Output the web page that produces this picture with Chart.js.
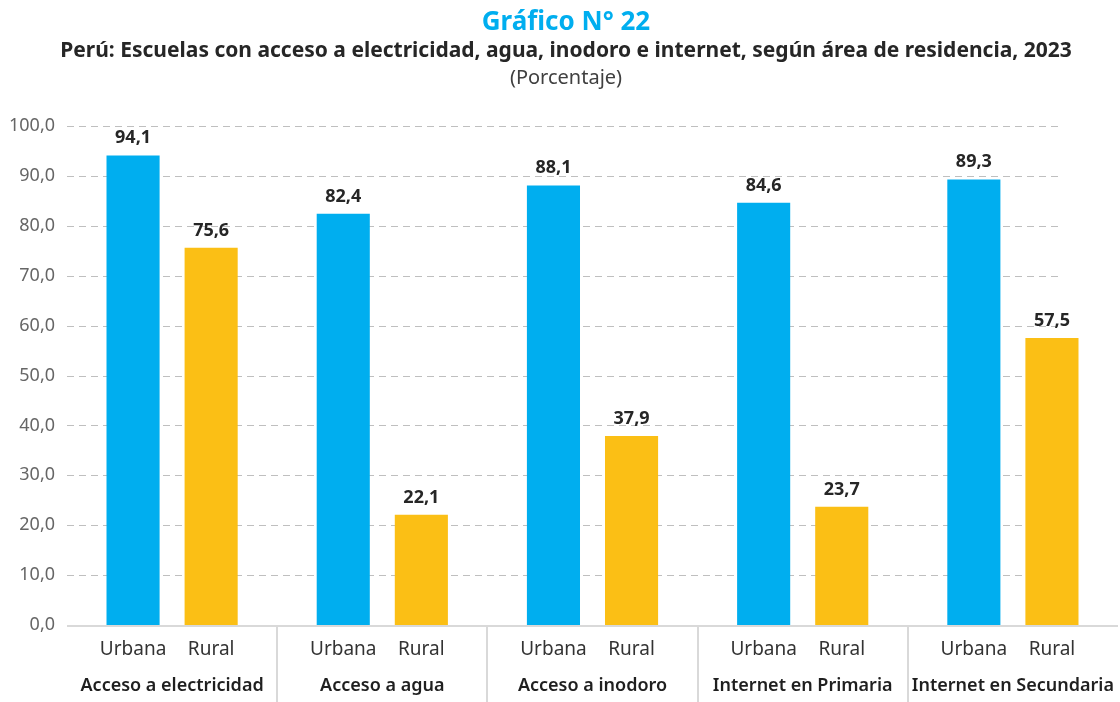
<!DOCTYPE html>
<html><head><meta charset="utf-8">
<script src="https://cdn.jsdelivr.net/npm/chart.js@4.4.1/dist/chart.umd.min.js"></script>
<style>html,body{margin:0;padding:0;background:#fff}#wrap{width:1120px;height:702px}</style>
</head><body><div id="wrap"><canvas id="c" width="1120" height="702"></canvas></div>
<script>
const groups = ['Acceso a electricidad', 'Acceso a agua', 'Acceso a inodoro', 'Internet en Primaria', 'Internet en Secundaria'];
const seriesNames = ['Urbana', 'Rural'];
const urbana = [94.1, 82.4, 88.1, 84.6, 89.3];
const rural = [75.6, 22.1, 37.9, 23.7, 57.5];
const yMin = 0, yMax = 100, yStep = 10;
const titleText = 'Gráfico N° 22';
const subtitleText = 'Perú: Escuelas con acceso a electricidad, agua, inodoro e internet, según área de residencia, 2023';
const unitText = '(Porcentaje)';

const FONT = "'Noto Sans', 'Open Sans', sans-serif";
const fmt = v => v.toFixed(1).replace('.', ',');

const decor = {
  id: 'decor',
  beforeDatasetsDraw(chart) {
    const ctx = chart.ctx, ca = chart.chartArea, y = chart.scales.y;
    ctx.save();
    ctx.strokeStyle = '#bfbfbf';
    ctx.lineWidth = 1;
    ctx.setLineDash([7, 5]);
    y.ticks.forEach(t => {
      if (t.value === yMin) return;
      const py = Math.round(y.getPixelForValue(t.value)) + 0.5;
      ctx.beginPath();
      ctx.moveTo(ca.left, py);
      ctx.lineTo(ca.right - 56, py);
      ctx.stroke();
    });
    ctx.restore();
  },
  afterDatasetsDraw(chart) {
    const ctx = chart.ctx, ca = chart.chartArea, x = chart.scales.x;
    ctx.save();
    ctx.strokeStyle = '#d9d9d9';
    ctx.lineWidth = 2;
    ctx.beginPath();
    ctx.moveTo(ca.left, ca.bottom + 1);
    ctx.lineTo(ca.right, ca.bottom + 1);
    ctx.stroke();
    for (let i = 1; i < groups.length; i++) {
      const px = Math.round((x.getPixelForValue(i - 1) + x.getPixelForValue(i)) / 2);
      ctx.beginPath();
      ctx.moveTo(px, ca.bottom + 1);
      ctx.lineTo(px, chart.height);
      ctx.stroke();
    }
    ctx.textAlign = 'center';
    ctx.textBaseline = 'alphabetic';
    chart.data.datasets.forEach((ds, di) => {
      const meta = chart.getDatasetMeta(di);
      meta.data.forEach((bar, i) => {
        ctx.fillStyle = '#262626';
        ctx.font = 'bold 18px ' + FONT;
        ctx.fillText(fmt(ds.data[i]), bar.x, bar.y - 12);
        ctx.fillStyle = '#333333';
        ctx.font = '19px ' + FONT;
        ctx.fillText(seriesNames[di], bar.x, ca.bottom + 30);
      });
    });
    ctx.fillStyle = '#1f1f1f';
    ctx.font = '600 18px ' + FONT;
    groups.forEach((g, i) => {
      ctx.fillText(g, x.getPixelForValue(i), ca.bottom + 66);
    });
    const cx = 566;
    ctx.fillStyle = '#00AEEF';
    ctx.font = 'bold 26px ' + FONT;
    ctx.fillText(titleText, cx, 30);
    ctx.fillStyle = '#262626';
    ctx.font = 'bold 21px ' + FONT;
    ctx.fillText(subtitleText, cx, 57, 1032);
    ctx.fillStyle = '#404040';
    ctx.font = '20px ' + FONT;
    ctx.fillText(unitText, cx, 84);
    ctx.restore();
  }
};

new Chart(document.getElementById('c'), {
  type: 'bar',
  data: {
    labels: groups,
    datasets: [
      { label: seriesNames[0], data: urbana, backgroundColor: '#00AEEF', categoryPercentage: 0.743, barPercentage: 0.68 },
      { label: seriesNames[1], data: rural, backgroundColor: '#FBBF15', categoryPercentage: 0.743, barPercentage: 0.68 }
    ]
  },
  options: {
    responsive: false,
    animation: false,
    devicePixelRatio: 1,
    layout: { padding: { top: 126, right: 2, bottom: 77, left: 0 } },
    plugins: { legend: { display: false }, tooltip: { enabled: false }, title: { display: false } },
    scales: {
      x: { display: false, offset: true, grid: { display: false } },
      y: {
        min: yMin, max: yMax,
        afterFit: s => { s.width = 67; },
        grid: { display: false, drawTicks: false },
        border: { display: false },
        ticks: { stepSize: yStep, padding: 12, color: '#666666', font: { family: FONT, size: 18 }, callback: v => fmt(v) }
      }
    }
  },
  plugins: [decor]
});
</script></body></html>
